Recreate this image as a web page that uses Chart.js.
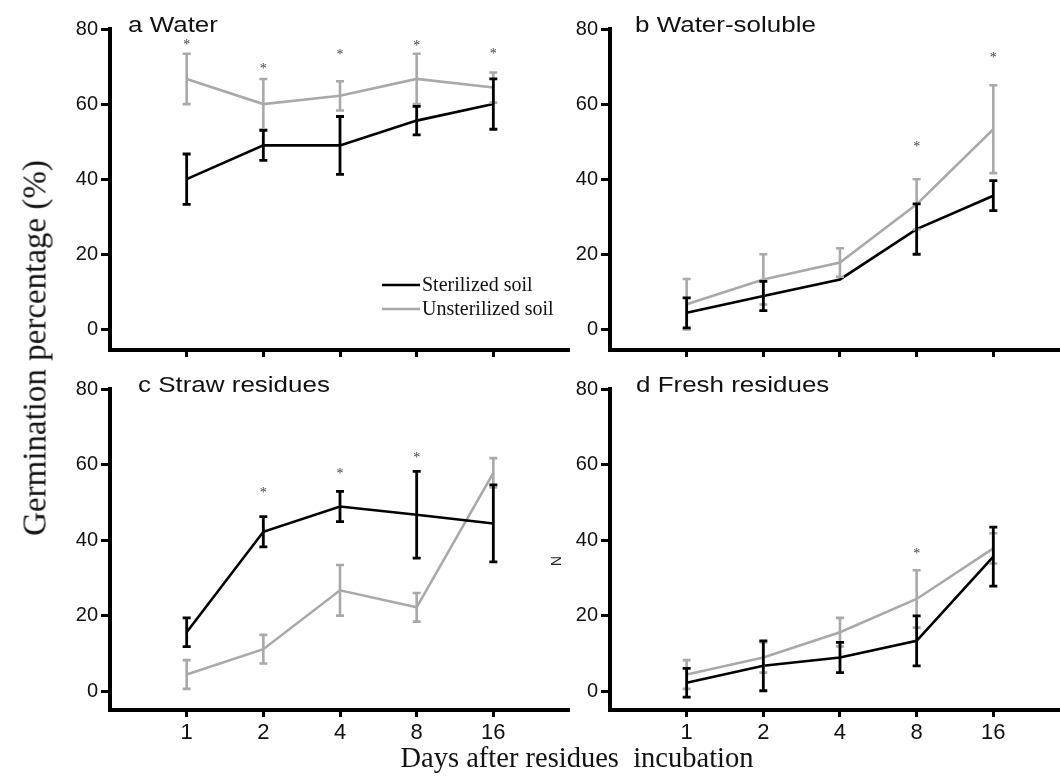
<!DOCTYPE html>
<html>
<head>
<meta charset="utf-8">
<title>Germination percentage</title>
<script src="https://cdn.jsdelivr.net/npm/chart.js@4.4.1/dist/chart.umd.min.js"></script>
<style>
  body { margin: 0; background: #fff; }
  #wrap { position: relative; width: 1060px; height: 778px; overflow: hidden; background: #fff; }
  canvas { position: absolute; }
  .ytitle {
    position: absolute; left: 35px; top: 348px;
    transform: translate(-50%, -50%) rotate(-90deg);
    font: 33px "Liberation Serif", "Times New Roman", serif;
    line-height: 1; white-space: nowrap; color: #111;
  }
  .xtitle {
    position: absolute; left: 577px; top: 744px;
    transform: translateX(-50%);
    font: 28.5px "Liberation Serif", "Times New Roman", serif;
    line-height: 1; white-space: pre; color: #111;
  }
</style>
</head>
<body>
<div id="wrap">
  <canvas id="pa" width="520" height="370" style="left:50px;top:0px"></canvas>
  <canvas id="pb" width="510" height="370" style="left:550px;top:0px"></canvas>
  <canvas id="pc" width="520" height="400" style="left:50px;top:360px"></canvas>
  <canvas id="pd" width="510" height="400" style="left:550px;top:360px"></canvas>
  <div class="ytitle">Germination percentage (%)</div>
  <div class="xtitle">Days after residues  incubation</div>
</div>
<script>
// dias de incubacion (categorias del eje x)
const days = ['1', '2', '4', '8', '16'];
const yTicks = [0, 20, 40, 60, 80];

// a Water
const waterSter = [40.0, 49.0, 49.0, 55.6, 60.0];
const waterSterErr = [6.7, 4.0, 7.7, 3.8, 6.7];
const waterUnst = [66.7, 60.0, 62.2, 66.7, 64.4];
const waterUnstErr = [6.7, 6.7, 3.9, 6.7, 4.0];
const waterStar = [76.4, 70.0, 73.6, 76.0, 73.9];

// b Water-soluble
const solSter = [4.4, 8.9, 13.3, 26.7, 35.6];
const solSterErr = [4.0, 3.9, 0, 6.7, 4.0];
const solUnst = [6.7, 13.3, 17.8, 33.3, 53.3];
const solUnstErr = [6.7, 6.7, 3.8, 6.7, 11.7];
const solStar = [null, null, null, 49.0, 72.9];

// c Straw residues
const strawSter = [15.6, 42.2, 48.9, 46.7, 44.4];
const strawSterErr = [3.8, 4.0, 4.0, 11.5, 10.2];
const strawUnst = [4.4, 11.1, 26.7, 22.2, 57.8];
const strawUnstErr = [3.8, 3.8, 6.7, 3.8, 3.9];
const strawStar = [null, 53.0, 58.0, 62.2, null];

// d Fresh residues
const freshSter = [2.2, 6.7, 8.9, 13.3, 35.6];
const freshSterErr = [3.8, 6.6, 4.0, 6.6, 7.8];
const freshUnst = [4.4, 8.9, 15.6, 24.4, 37.8];
const freshUnstErr = [3.8, 4.0, 3.8, 7.6, 4.0];
const freshStar = [null, null, null, 36.8, null];

const BLACK = '#000';
const GRAY = '#a9a9a9';

// Dibuja barras de error, asteriscos, titulo y leyenda
const extras = {
  id: 'extras',
  afterDatasetsDraw(chart, args, o) {
    const { ctx, chartArea: a, scales: { x, y } } = chart;

    function bars(vals, errs, color, w) {
      ctx.save();
      ctx.strokeStyle = color;
      ctx.lineWidth = w;
      vals.forEach((v, i) => {
        const e = errs[i];
        if (!e) return;
        const px = x.getPixelForValue(i);
        const top = y.getPixelForValue(v + e);
        const bot = y.getPixelForValue(v - e);
        ctx.beginPath();
        ctx.moveTo(px, top); ctx.lineTo(px, bot);
        ctx.moveTo(px - 4, top); ctx.lineTo(px + 4, top);
        ctx.moveTo(px - 4, bot); ctx.lineTo(px + 4, bot);
        ctx.stroke();
      });
      ctx.restore();
    }
    bars(o.unst, o.unstErr, GRAY, 2.6);
    bars(o.ster, o.sterErr, BLACK, 2.8);

    // asteriscos de significancia
    ctx.save();
    ctx.font = '14px "Liberation Serif", serif';
    ctx.fillStyle = '#444';
    ctx.textAlign = 'center';
    o.stars.forEach((s, i) => {
      if (s == null) return;
      ctx.fillText('*', x.getPixelForValue(i), y.getPixelForValue(s) + 6);
    });
    ctx.restore();

    // titulo del panel
    ctx.save();
    ctx.translate(a.left + o.titleDx, a.top + 3);
    ctx.scale(1.18, 1);
    ctx.font = '22px "Liberation Sans", Arial, sans-serif';
    ctx.fillStyle = '#111';
    ctx.fillText(o.title, 0, 0);
    ctx.restore();

    if (o.legend) {
      const items = [['Sterilized soil', BLACK, 256], ['Unsterilized soil', GRAY, 280]];
      ctx.save();
      ctx.font = '20px "Liberation Serif", "Times New Roman", serif';
      items.forEach(([t, c, dy]) => {
        const ly = a.top + dy;
        ctx.strokeStyle = c;
        ctx.lineWidth = 2.6;
        ctx.beginPath();
        ctx.moveTo(a.right - 188, ly);
        ctx.lineTo(a.right - 150, ly);
        ctx.stroke();
        ctx.fillStyle = '#111';
        ctx.fillText(t, a.right - 148, ly + 6);
      });
      ctx.restore();
    }

    if (o.mark) {
      ctx.save();
      ctx.translate(a.right - 15, a.top + 172);
      ctx.rotate(Math.PI / 2);
      ctx.font = '14px "Liberation Sans", Arial, sans-serif';
      ctx.fillStyle = '#222';
      ctx.textAlign = 'center';
      ctx.textBaseline = 'middle';
      ctx.fillText('N', 0, 0);
      ctx.restore();
    }
  }
};

function makePanel(id, p) {
  const toPts = arr => arr.map((v, i) => ({ x: i, y: v }));
  new Chart(document.getElementById(id), {
    type: 'line',
    data: {
      datasets: [
        { label: 'Sterilized soil', data: toPts(p.ster), borderColor: BLACK, borderWidth: 2.6, pointRadius: 0, tension: 0 },
        { label: 'Unsterilized soil', data: toPts(p.unst), borderColor: GRAY, borderWidth: 2.6, pointRadius: 0, tension: 0 }
      ]
    },
    options: {
      responsive: false,
      animation: false,
      devicePixelRatio: 1,
      layout: { padding: { top: 29, left: 0, right: 0, bottom: 0 } },
      plugins: {
        legend: { display: false },
        tooltip: { enabled: false },
        extras: p
      },
      scales: {
        x: {
          type: 'linear',
          min: -1,
          max: p.xMax,
          afterBuildTicks: s => { s.ticks = days.map((d, i) => ({ value: i })); },
          afterFit: s => { s.height = p.bottom ? 50 : 20; },
          ticks: {
            autoSkip: false, maxRotation: 0, minRotation: 0, padding: 3,
            color: '#111',
            font: { family: '"Liberation Sans", Arial, sans-serif', size: 22 },
            callback: v => p.bottom ? (days[v] ?? '') : ''
          },
          grid: { drawOnChartArea: false, drawTicks: true, tickLength: 7, color: '#000', lineWidth: 3 },
          border: { color: '#000', width: 4 }
        },
        y: {
          min: p.yMin,
          max: 80,
          afterBuildTicks: s => { s.ticks = yTicks.map(v => ({ value: v })); },
          afterFit: s => { s.width = 60; },
          ticks: {
            padding: 3,
            color: '#111',
            font: { family: '"Liberation Sans", Arial, sans-serif', size: 20 }
          },
          grid: { drawOnChartArea: false, drawTicks: true, tickLength: 9, color: '#000', lineWidth: 3 },
          border: { color: '#000', width: 4 }
        }
      }
    },
    plugins: [extras]
  });
}

makePanel('pa', {
  title: 'a Water', titleDx: 18, xMax: 5, yMin: -5.5, bottom: false, legend: true,
  ster: waterSter, sterErr: waterSterErr, unst: waterUnst, unstErr: waterUnstErr, stars: waterStar
});
makePanel('pb', {
  title: 'b Water-soluble', titleDx: 25, xMax: 4.87, yMin: -5.5, bottom: false,
  ster: solSter, sterErr: solSterErr, unst: solUnst, unstErr: solUnstErr, stars: solStar
});
makePanel('pc', {
  title: 'c Straw residues', titleDx: 28, xMax: 5, yMin: -5.0, bottom: true, mark: true,
  ster: strawSter, sterErr: strawSterErr, unst: strawUnst, unstErr: strawUnstErr, stars: strawStar
});
makePanel('pd', {
  title: 'd Fresh residues', titleDx: 26, xMax: 4.87, yMin: -5.0, bottom: true,
  ster: freshSter, sterErr: freshSterErr, unst: freshUnst, unstErr: freshUnstErr, stars: freshStar
});
</script>
</body>
</html>
